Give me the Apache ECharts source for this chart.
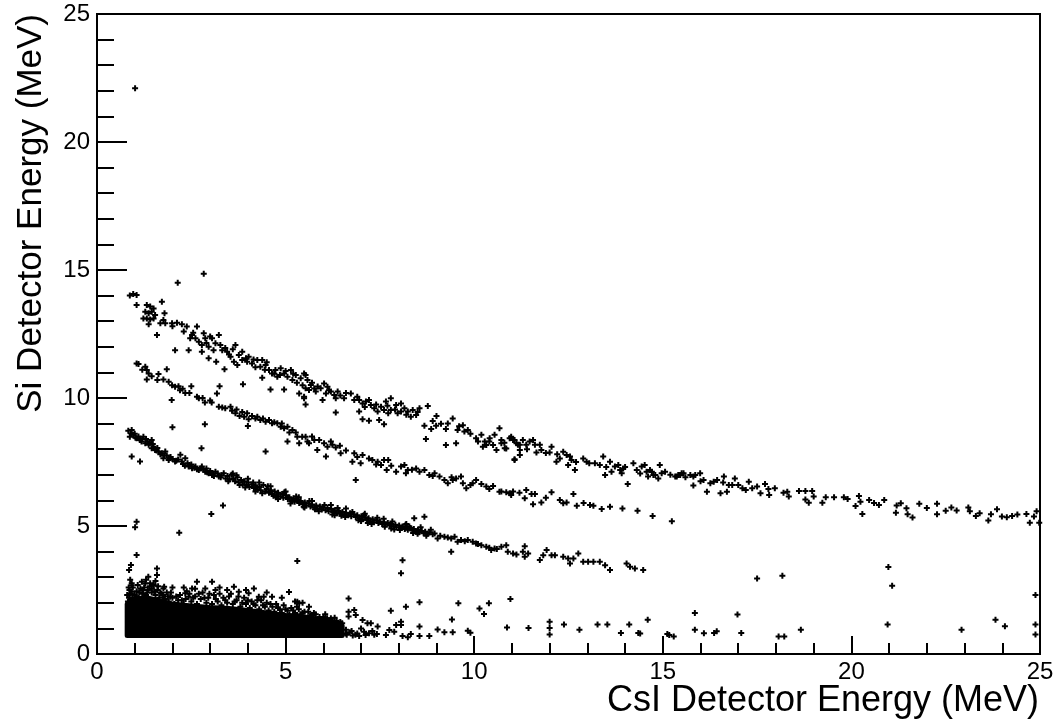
<!DOCTYPE html>
<html><head><meta charset="utf-8">
<script src="https://cdn.jsdelivr.net/npm/echarts@6/dist/echarts.min.js"></script>
<style>html,body{margin:0;padding:0;background:#fff}#c{width:1054px;height:727px}</style>
</head><body><div id="c"></div>
<script>
// ---- axis ticks ----
const xTickValues = [0, 5, 10, 15, 20, 25];
const yTickValues = [0, 5, 10, 15, 20, 25];
const xTitle = 'CsI Detector Energy (MeV)';
const yTitle = 'Si Detector Energy (MeV)';

// ---- upper band (CsI, Si) ----
const topBand = [
[0.87,14.0],[0.96,14.06],[1.05,14.02],[1.05,13.63],[1.32,13.63],[1.41,13.57],[1.5,13.5],[1.28,13.37],[1.37,13.31],[1.45,13.37],[1.54,13.24],[1.23,13.11],[1.32,13.11],[1.41,13.07],[1.5,13.11],[1.37,12.88],[1.72,13.76],[1.79,13.31],[1.76,13.05],[1.68,12.92],[1.81,12.92],[1.99,12.92],[2.12,12.94],[2.25,12.88],[2.38,12.79],[2.52,12.46],[2.61,12.33],[2.65,12.79],[2.47,12.33],[2.7,12.2],[2.83,12.53],[2.78,12.07],[2.87,12.33],[3.05,12.33],[3.14,12.14],[3.23,12.46],[3.27,12.07],[2.78,11.81],[2.96,12.0],[3.09,11.87],[3.32,11.87],[3.45,11.81],[3.67,12.07],[2.96,11.55],[3.16,11.42],[3.54,11.61],[3.63,11.42],[3.76,11.68],[3.85,11.81],[3.72,11.29],[3.85,11.48],[3.98,11.42],[4.02,11.61],[4.11,11.35],[4.25,11.48],[4.38,11.48],[4.33,11.22],[4.47,11.29],[4.56,11.09],[4.64,10.96],[4.78,10.83],[4.73,11.09],[4.87,11.16],[4.96,10.96],[5.05,10.83],[5.14,11.09],[5.18,10.7],[5.27,10.9],[5.4,10.77],[5.53,10.9],[4.38,10.79],[4.6,10.33],[4.96,10.33],[5.36,10.18],[5.49,9.99],[5.53,9.75],[5.62,10.31],[5.76,10.37],
[5.49,10.96],[5.58,10.7],[5.53,10.38],[5.67,10.51],[5.49,10.05],[5.8,10.25],[5.93,10.38],[6.02,10.57],[6.11,10.44],[6.07,10.18],[6.2,10.25],[6.29,10.12],[6.38,10.25],[6.33,9.99],[5.98,9.92],[6.55,9.99],[6.73,10.18],[6.82,9.92],[6.95,9.92],[7.04,9.79],[7.13,9.86],[7.21,9.92],[7.26,9.73],[6.95,9.47],[7.35,9.6],[7.44,9.47],[7.53,9.66],[7.61,9.53],[7.72,9.4],[7.79,9.53],[7.66,9.86],[7.79,9.99],[7.93,9.73],[8.06,9.79],[7.97,9.4],[8.06,9.47],[8.15,9.6],[8.24,9.47],[8.37,9.53],[8.32,9.27],[8.46,9.34],[8.55,9.6],[8.77,9.69],[7.04,9.17],[7.21,9.11],[7.48,9.14],[7.61,8.97],[8.68,8.92],[8.72,8.4],[8.86,8.79],[8.99,8.92],[9.12,8.99],[9.25,8.79],[9.43,9.2],[9.56,8.75],[9.7,8.94],[9.74,8.69],[9.83,8.75],[9.52,8.23],[9.25,8.16],[10.05,8.43],[10.19,8.56],[10.28,8.3],[10.23,8.1],[10.32,8.16],[10.41,8.43],[10.5,8.16],[10.54,8.56],[10.67,8.82],[10.59,7.97],[10.72,8.23],[10.81,8.04],[10.94,8.43],[11.03,8.36],[11.12,8.23],[11.21,7.97],[11.07,7.61],[11.21,8.17],
[10.72,8.36],[10.85,8.03],[10.98,8.49],[11.07,8.36],[11.16,8.17],[11.07,7.58],[11.21,7.77],[11.29,8.36],[11.38,8.17],[11.47,8.3],[11.56,8.36],[11.61,8.17],[11.65,7.87],[11.74,8.17],[11.78,7.97],[12.05,8.1],[12.0,7.87],[12.18,7.51],[12.27,7.64],[12.36,7.9],[12.45,7.77],[12.54,7.71],[12.58,7.58],[12.49,7.38],[12.67,7.19],[12.89,7.64],[12.98,7.51],[13.05,7.45],[13.42,7.71],[13.33,7.38],[13.47,6.99],[13.6,7.51],[13.73,7.32],[13.82,7.38],[13.87,7.19],[13.95,7.25],[13.64,7.12],[13.91,7.06],[14.07,6.64],[14.22,7.45],[14.31,7.19],[14.44,7.32],[14.52,7.38],[14.57,7.12],[14.66,7.19],[14.61,6.93],[14.75,6.99],[14.88,6.86],[14.92,7.38],[15.06,7.12],[15.37,6.93],[15.46,6.99],[15.55,7.06],[15.81,6.93],[15.86,6.99],[15.81,6.58],[15.99,7.06],
[14.71,7.12],[14.8,6.99],[14.97,7.06],[15.33,6.93],[15.41,6.99],[15.5,7.06],[15.73,6.99],[16.08,6.8],[16.17,6.34],[16.26,6.67],[16.35,6.73],[16.44,6.8],[16.53,6.28],[16.62,6.93],[16.7,6.34],[16.75,6.6],[16.84,6.6],[16.91,6.86],[17.11,6.47],[17.2,6.41],[17.28,6.73],[17.37,6.47],[17.5,6.54],[17.59,6.28],[17.71,6.64],[17.82,6.21],[17.97,6.47],[18.3,6.34],[18.34,6.15],[18.61,6.37],[18.78,6.37],[18.78,6.04],[18.87,5.91],[18.96,6.37],[19.23,5.91],[19.32,6.12],[19.54,6.12],[19.8,6.12],[20.11,5.78],[20.2,6.17],[20.24,5.95],[20.29,5.47],[20.47,6.02],[20.73,5.82],[20.87,6.02],[21.18,5.52],[21.31,5.89],[21.46,5.69],[21.49,5.46],[21.62,5.33],[21.8,5.87],[22.27,5.87],[22.27,5.46],[22.65,5.72],[22.79,5.61],[23.1,5.72],[23.14,5.58],[23.3,5.39],[23.63,5.21],[23.7,5.46],[23.86,5.65],[23.99,5.37],[24.12,5.34],[24.26,5.39],[24.64,5.47],[24.73,5.13],[24.84,5.37],[24.91,5.58],[24.98,5.13],
[2.0,12.8],[2.3,12.6],[2.55,12.55],[2.9,12.15],[3.0,12.4],[3.4,11.95],[3.5,11.7],[3.6,11.9],[3.95,11.55],[4.15,11.5],[4.2,11.2],[4.45,11.1],[4.5,11.4],[4.7,10.95],[4.85,10.9],[5.0,11.05],[5.2,10.95],[5.3,10.6],[5.45,10.5],[5.7,10.6],[5.85,10.45],[6.15,10.3],[6.45,10.1],[6.6,10.2],[6.9,10.05],[7.1,9.65],[7.4,9.75],[7.7,9.7],[7.9,9.55],[8.2,9.35],[8.5,9.45],[8.9,9.1],[9.0,9.3],[9.3,9.0],[9.6,8.9],[9.9,8.6],[10.1,8.3],[10.4,8.3],[10.8,8.25],[11.4,8.0],[11.9,7.85],[12.2,7.8],[12.7,7.5],[13.2,7.45],[13.5,7.3],[14.0,7.3],[14.4,7.05],[15.2,7.0],[15.6,6.9],[16.0,6.75],[16.6,6.7],[17.0,6.6],[17.8,6.45],[18.2,6.3],[19.0,6.15],[19.9,6.05],[20.6,5.9],[21.2,5.8],[22.0,5.7],[22.5,5.6],[23.4,5.5],[24.4,5.45]
];

// ---- middle band ----
const midBand = [
[1.05,11.35],[1.1,11.33],[1.28,11.22],[1.32,11.09],[1.37,10.96],[1.32,10.72],[1.63,10.94],[1.85,11.12],[1.76,10.72],[1.9,10.63],[1.99,10.5],[2.07,10.44],[2.16,10.46],[2.27,10.36],[2.34,10.2],[2.5,10.46],[2.65,10.05],[2.7,9.99],[2.86,9.82],[3.04,9.82],[3.18,10.18],[3.25,10.46],[3.23,9.66],[3.32,9.63],[3.54,9.66],[3.58,9.5],[3.67,9.4],[3.78,9.3],[3.9,9.27],[3.98,9.4],[4.02,9.17],[4.11,9.3],[4.25,9.27],[4.33,9.14],[4.47,9.07],[4.56,9.14],[4.64,9.01],[4.78,9.01],[4.87,8.88],[4.96,8.82],[5.05,8.88],[5.18,8.75],[5.27,8.65],[5.31,8.49],[5.05,8.3],[5.36,8.23],[5.53,8.49],[5.62,8.23],[5.76,8.36],[4.0,8.91],
[5.44,8.49],[5.58,8.3],[5.89,8.36],[6.02,8.23],[6.11,8.1],[6.24,8.17],[6.33,8.07],[6.44,8.13],[5.84,7.97],[6.07,7.71],[6.46,7.84],[6.82,7.84],[6.77,7.51],[7.04,7.77],[6.99,7.45],[7.21,7.64],[7.3,7.58],[7.44,7.51],[7.53,7.38],[7.61,7.58],[7.72,7.58],[7.68,7.19],[7.93,7.12],[8.06,7.32],[8.15,7.38],[8.24,7.19],[8.19,7.06],[8.46,7.25],[8.55,7.12],[8.68,7.19],[8.81,6.99],[8.95,7.06],[9.08,6.93],[9.21,6.8],[9.3,6.67],[9.43,6.8],[9.52,6.86],[9.65,6.93],[9.79,6.47],[9.7,6.67],[9.96,6.67],[10.05,6.8],[10.19,6.64],[10.32,6.54],[10.5,6.56],[10.67,6.34],[10.85,6.32],[10.98,6.21],
[10.72,6.35],[10.94,6.28],[11.03,6.35],[11.38,6.41],[11.34,6.08],[11.52,6.25],[11.61,6.25],[11.56,5.85],[11.78,5.92],[12.05,6.32],[12.27,6.02],[12.36,5.89],[12.45,5.92],[12.63,6.25],[12.72,5.79],[13.07,5.82],[13.16,5.79],[13.38,5.66],[13.93,5.68],[14.33,5.6],[14.73,5.39],[15.24,5.19],
[1.2,11.1],[1.45,10.85],[1.6,10.7],[2.2,10.3],[2.45,10.2],[2.8,10.0],[3.0,9.9],[3.4,9.6],[3.7,9.55],[3.85,9.45],[4.2,9.2],[4.4,9.2],[4.7,9.05],[4.9,9.0],[5.1,8.65],[5.7,8.5],[6.2,8.3],[6.6,7.95],[6.9,7.7],[7.4,7.4],[7.8,7.35],[8.35,7.2],[8.9,6.95],[9.4,6.9],[9.9,6.6],[10.4,6.45],[11.2,6.3],[11.9,6.1],[12.9,5.9],[13.6,5.75]
];

// ---- lower band ----
const lowBand = [
[0.83,8.72],[0.92,8.75],[0.96,8.56],[0.87,8.49],[1.05,8.43],[1.14,8.36],[1.23,8.49],[1.28,8.23],[1.37,8.17],[1.45,8.36],[1.45,8.04],[1.54,7.97],[1.63,7.91],[1.72,7.84],[1.81,7.91],[1.76,7.65],[1.9,7.58],[2.07,7.52],[2.21,7.78],[2.25,7.52],[2.34,7.65],[2.33,7.35],[2.43,7.32],[2.52,7.26],[2.61,7.32],[2.7,7.19],[2.78,7.32],[2.87,7.12],[2.96,7.06],[3.05,6.99],[3.14,7.12],[3.23,6.93],[3.36,7.06],[3.41,6.86],
[1.0,8.6],[1.1,8.5],[1.18,8.3],[1.3,8.4],[1.4,8.25],[1.5,8.1],[1.6,8.05],[1.68,7.8],[1.85,7.75],[1.95,7.7],[2.0,7.62],[2.15,7.6],[2.4,7.45],[2.5,7.4],[2.65,7.22],[2.82,7.2],[2.9,7.25],[3.0,7.15],[3.1,6.95],[3.2,7.05],[3.3,6.98],
[0.9,8.62],[1.02,8.45],[1.2,8.4],[1.34,8.3],[1.48,8.2],[1.58,7.95],[1.78,7.75],[1.92,7.65],[2.1,7.55],[2.28,7.42],[2.45,7.38],[2.58,7.28],[2.75,7.25],[2.92,7.1],[3.08,7.05],[3.28,6.9],
[3.46,6.95],[3.51,6.82],[3.57,7.0],[3.61,6.85],[3.66,6.75],[3.72,6.9],[3.76,6.7],[3.82,6.8],[3.86,6.62],[3.9,6.75],[3.96,6.6],[4.01,6.7],[4.04,6.52],[4.11,6.62],[4.16,6.48],[4.2,6.58],[4.26,6.42],[4.31,6.52],[4.34,6.4],[4.41,6.6],[4.46,6.35],[4.5,6.45],[4.56,6.3],[4.61,6.4],[4.64,6.25],[4.71,6.35],[4.76,6.2],[4.8,6.3],[4.86,6.15],[4.91,6.25],[4.94,6.1],[5.01,6.2],[5.06,6.05],[5.1,6.12],[5.16,5.98],[5.21,6.08],[5.24,5.95],[5.31,6.02],[5.36,5.9],[5.4,5.98],[5.46,5.85],[5.51,5.92],[5.54,5.8],[5.61,5.88],[5.66,5.76],[5.7,5.84],[5.76,5.72],[5.81,5.8],[5.84,5.68],[5.91,5.76],[5.96,5.64],[6.0,5.72],[6.06,5.62],[6.11,5.7],[6.14,5.58],[6.21,5.66],[6.26,5.55],[6.3,5.62],[6.36,5.5],[6.41,5.6],[6.44,5.48],[6.51,5.55],[6.56,5.45],[6.6,5.52],[6.66,5.42],[6.71,5.5],[6.74,5.38],[6.81,5.46],[6.86,5.35],[6.9,5.42],[6.96,5.3],[7.01,5.38],[7.04,5.26],[7.11,5.34],[7.16,5.22],[7.2,5.3],[7.26,5.18],[7.31,5.26],[7.34,5.15],[7.41,5.22],[7.46,5.12],[7.5,5.18],[7.56,5.08],[7.61,5.15],[7.64,5.05],[7.71,5.12],[7.76,5.02],[7.8,5.08],[7.86,4.98],[7.91,5.05],[7.94,4.95],[8.01,5.02],[8.06,4.92],[8.1,4.98],[8.16,4.88],[8.21,4.95],[8.24,4.85],[8.31,4.92],[8.36,4.82],[8.4,4.88],[8.46,4.78],[8.51,4.85],[8.54,4.76],[8.61,4.8],[8.66,4.72],[8.7,4.78],[8.76,4.7],[8.81,4.75],[8.9,4.68],
[3.6,7.05],[4.0,6.85],[4.3,6.7],[4.6,6.55],[5.0,6.35],[5.35,6.12],[5.7,5.98],[6.2,5.82],[6.6,5.68],[7.1,5.48],[7.6,5.28],[8.2,5.08],[4.2,6.35],[4.8,6.05],[5.5,5.72],[6.3,5.42],[7.0,5.2],[7.8,4.9],[8.5,4.7],
[3.48,6.75],[3.7,6.98],[3.93,6.5],[4.14,6.7],[4.38,6.28],[4.53,6.55],[4.74,6.12],[4.97,6.32],[5.13,5.88],[5.28,6.15],[5.48,5.75],[5.63,5.98],[5.88,5.58],[6.03,5.82],[6.24,5.45],[6.38,5.7],[6.58,5.35],[6.77,5.55],[6.93,5.22],[7.08,5.42],[7.28,5.08],[7.43,5.32],[7.63,4.97],[7.83,5.18],[8.03,4.84],[8.18,5.05],[8.38,4.73],[8.58,4.95],[8.73,4.62],[8.85,4.85],[3.78,6.6],[4.24,6.5],[4.68,6.18],[5.18,6.0],[5.78,5.65],[6.48,5.4],[7.18,5.12],[7.88,4.86],[8.28,4.98],
[8.95,4.71],[9.03,4.51],[9.21,4.58],[9.39,4.51],[9.48,4.58],[9.56,4.38],[9.65,4.45],[9.83,4.45],[9.96,4.38],[10.05,4.32],[10.19,4.25],[10.32,4.19],[10.45,4.06],[10.54,4.12],[10.72,4.19],[9.1,4.62],[9.3,4.55],[9.75,4.4],[10.1,4.3],[10.4,4.15],[10.6,4.1],
[10.85,4.25],[10.89,3.99],[11.03,3.93],[11.12,3.89],[11.29,3.99],[11.34,4.21],[11.43,3.93],[11.34,3.8],[11.74,3.67],[11.83,3.86],[11.92,4.06],[12.05,3.86],[12.14,3.86],[12.36,3.8],[12.49,3.73],[12.54,3.54],[12.63,3.73],[12.76,3.93],[12.89,3.6],[13.02,3.6],[13.16,3.6],[13.33,3.6],[13.47,3.47],[13.6,3.28],[14.04,3.54],[14.13,3.41],[14.26,3.34],[14.48,3.28]
];

// ---- dense low-energy region: outline of the saturated core ----
const blobOutline = [
[0.8,0.72],[6.5,0.72],[6.5,1.1],[6.2,1.3],[5.9,1.35],[5.5,1.45],[5.0,1.5],[4.5,1.6],[4.0,1.7],[3.5,1.78],[3.0,1.82],[2.5,1.88],[2.0,1.95],[1.6,2.1],[1.3,2.2],[1.0,2.15],[0.8,1.95]
];

// ---- fringe of the dense region ----
const lowFringe = [
[0.82,2.05],[0.85,2.2],[0.9,2.35],[0.95,2.15],[1.0,2.3],[1.05,2.45],[1.1,2.2],[1.15,2.55],[1.2,2.35],[1.25,2.6],[1.3,2.3],[1.35,2.5],[1.4,2.65],[1.45,2.4],[1.5,2.7],[1.55,2.3],[1.6,2.5],[1.65,2.2],[1.7,2.35],[1.8,2.15],[1.85,2.4],[1.9,2.05],[2.0,2.2],[2.05,1.95],[2.15,2.1],[2.2,2.3],[2.3,1.95],[2.35,2.15],[2.45,2.35],[2.5,2.05],[2.6,2.25],[2.65,1.95],[2.75,2.15],[2.8,2.4],[2.9,2.0],[2.95,2.2],[3.05,1.95],[3.1,2.3],[3.2,2.05],[3.3,1.9],[3.35,2.2],[3.45,2.0],[3.55,2.35],[3.6,1.95],[3.7,2.1],[3.8,1.85],[3.9,2.2],[3.95,1.95],[4.05,1.8],[4.1,2.05],[4.2,1.9],[4.3,1.75],[4.35,2.1],[4.45,1.85],[4.55,1.7],[4.6,1.95],[4.7,1.65],[4.8,1.8],[4.9,1.6],[5.0,1.75],[5.1,1.55],[5.2,1.7],[5.3,1.85],[5.4,1.55],[5.5,1.65],[5.65,1.5],[5.75,1.6],[5.9,1.45],[6.05,1.55],[6.2,1.4],[6.35,1.3],[6.5,1.2],[6.6,0.95],[6.6,0.8],[6.75,0.9],[6.85,0.75],
[0.86,2.5],[0.95,2.6],[1.08,2.7],[1.12,2.4],[1.22,2.5],[1.28,2.75],[1.33,2.4],[1.45,2.55],[1.52,2.45],[1.62,2.65],[1.68,2.4],[1.75,2.3],[1.88,2.25],[1.96,2.4],[2.1,2.25],[2.25,2.1],[2.38,2.45],[2.55,2.2],[2.7,2.35],[2.85,2.2],[2.98,2.35],[3.15,2.15],[3.25,2.35],[3.4,2.1],[3.5,2.25],[3.65,2.05],[3.75,2.25],[3.85,2.0],[4.0,2.1],[4.15,1.95],[4.25,2.1],[4.4,1.9],[4.5,2.0],[4.65,1.85],[4.75,1.95],[4.85,1.75],[4.95,1.9],[5.05,1.7],[5.15,1.8],[5.25,1.6],[5.35,1.75],[5.45,1.6],[5.6,1.65],[5.7,1.5],[5.8,1.55],[6.0,1.45],[6.1,1.4],[6.3,1.42],[6.45,1.25],[0.8,2.3],[0.84,2.6],[0.88,2.9],[1.3,2.9],[1.55,2.85],[2.0,2.6],[2.3,2.6],[2.6,2.55],[3.25,2.6],[3.95,2.5],[4.5,2.4],[4.9,2.2],[5.45,2.0],
[0.92,2.76],[1.19,2.82],[1.36,3.02],[1.41,2.76],[1.5,2.69],[0.92,2.69],[0.92,2.43],[1.78,2.63],[1.76,2.56],[2.52,2.56],[2.65,2.82],[2.87,2.56],[3.05,2.82],[3.14,2.5],[3.45,2.5],[3.63,2.63],[3.76,2.43],[4.02,2.37],[4.16,2.56],[4.29,2.24],[4.42,2.24],[4.64,2.24],[2.43,2.24],[2.34,2.37],[1.94,2.24],[1.05,2.24],[0.83,1.98],[5.62,1.85],[5.09,2.42],[5.25,2.05],[5.36,1.98],[5.31,2.04],
[6.67,2.17],[6.67,1.65],[6.67,1.46],[6.82,1.72],[6.86,1.52],[7.04,1.33],[7.0,1.0],[7.17,1.2],[7.26,1.2],[7.08,0.87],[7.21,0.81],[7.44,1.07],[7.42,0.78],[7.66,0.74],[7.75,0.94],[7.79,1.69],[7.93,1.13],[7.88,0.87],[8.06,1.26],[8.06,1.13],[8.19,1.85],[8.1,0.7],[8.24,0.65],[8.32,0.78],[8.55,2.02],[8.55,1.07],[8.55,0.7],[8.81,0.7],[9.03,0.96],[9.21,0.85],[9.43,0.85],[9.41,1.35],[9.58,1.98],[9.83,0.91],[9.9,0.83],[10.14,1.78],[10.26,1.56],[10.39,1.98],[10.87,1.04],[10.96,2.15],
[6.62,0.75],[6.7,0.85],[6.78,0.72],[6.9,0.8],[6.95,0.7],[7.12,0.74],[7.3,0.9],[7.35,0.75],
[11.44,1.02],[12.0,1.26],[12.0,1.02],[12.0,0.76],[12.38,1.15],[12.79,0.95],[13.27,1.15],[13.53,1.15],[13.89,0.82],[14.11,1.15],[14.35,0.82],[14.4,0.8],[14.6,1.34],[15.12,0.78],[15.17,0.74],[15.29,0.68],[15.85,1.6],[15.85,0.95],[16.09,0.81],[16.36,0.82],[16.43,0.89],[16.98,1.54],[17.08,0.82],[18.07,0.68],[18.22,0.68],[18.66,0.95],[20.96,1.15],[22.92,0.95],[23.82,1.34],[24.07,1.08],[24.88,1.15],[24.88,0.76]
];

// ---- isolated events ----
const strays = [
[1.01,22.1],[2.14,14.5],[2.83,14.85],[2.07,11.87],[2.43,11.87],[1.59,12.46],[3.38,11.12],[3.87,10.54],[1.98,9.92],[2.0,8.86],[2.86,8.97],[2.77,8.04],[4.47,7.91],[0.92,7.71],[1.14,7.52],[6.33,9.43],[6.86,6.8],
[1.05,5.17],[1.01,4.95],[1.05,3.87],[0.9,3.48],[0.85,3.28],[1.59,3.34],[1.59,3.09],[2.18,4.74],[3.03,5.47],[3.34,5.8],[5.31,3.63],[8.41,5.3],[8.68,5.36],[8.1,3.66],[8.06,3.15],[9.39,3.99],
[17.5,2.95],[18.17,3.06],[20.98,3.4],[21.08,2.67],[24.88,2.3]
];

const plusSymbol = 'path://M2,0H4V2H6V4H4V6H2V4H0V2H2Z';
const font = 'Liberation Sans, Arial, Helvetica, sans-serif';

const chart = echarts.init(document.getElementById('c'), null, {renderer: 'canvas'});
function scatter(data) {
  return {
    type: 'scatter', data: data, symbol: plusSymbol, symbolSize: 6,
    itemStyle: {color: '#000', opacity: 1}, silent: true, animation: false, clip: true
  };
}
const axisLineStyle = {color: '#000', width: 2};
chart.setOption({
  animation: false,
  backgroundColor: '#fff',
  title: {
    text: xTitle, right: 15, top: 683, padding: 0,
    textStyle: {fontFamily: font, fontSize: 36, fontWeight: 'normal', color: '#000'}
  },
  grid: {left: 97, right: 14, top: 14, bottom: 73, show: true, borderColor: '#000', borderWidth: 2,
         backgroundColor: 'transparent', containLabel: false, outerBoundsMode: 'none'},
  xAxis: {
    type: 'value', min: xTickValues[0], max: xTickValues[xTickValues.length - 1],
    interval: xTickValues[1] - xTickValues[0],
    axisLine: {show: true, onZero: false, lineStyle: axisLineStyle},
    axisTick: {show: true, inside: true, length: 18, lineStyle: axisLineStyle},
    minorTick: {show: true, splitNumber: 5, length: 11, lineStyle: axisLineStyle},
    axisLabel: {color: '#000', fontFamily: font, fontSize: 24, margin: 6},
    splitLine: {show: false}, minorSplitLine: {show: false}
  },
  yAxis: {
    type: 'value', min: yTickValues[0], max: yTickValues[yTickValues.length - 1],
    interval: yTickValues[1] - yTickValues[0],
    name: yTitle, nameLocation: 'end', nameGap: 0, nameRotate: 90,
    nameTextStyle: {fontFamily: font, fontSize: 35, color: '#000', align: 'right', verticalAlign: 'bottom', padding: [0, 0, 48, 0]},
    axisLine: {show: true, onZero: false, lineStyle: axisLineStyle},
    axisTick: {show: true, inside: true, length: 30, lineStyle: axisLineStyle},
    minorTick: {show: true, splitNumber: 5, length: 17, lineStyle: axisLineStyle},
    axisLabel: {color: '#000', fontFamily: font, fontSize: 24, margin: 7},
    splitLine: {show: false}, minorSplitLine: {show: false}
  },
  series: [
    {
      type: 'custom', silent: true, clip: true, animation: false,
      data: [blobOutline[0]],
      renderItem: function (params, api) {
        return {
          type: 'polygon',
          shape: {points: blobOutline.map(function (p) { return api.coord(p); })},
          style: {fill: '#000', stroke: '#000', lineWidth: 5, lineJoin: 'round'}
        };
      }
    },
    scatter(lowFringe),
    scatter(lowBand),
    scatter(midBand),
    scatter(topBand),
    scatter(strays)
  ]
});
</script>
</body></html>
